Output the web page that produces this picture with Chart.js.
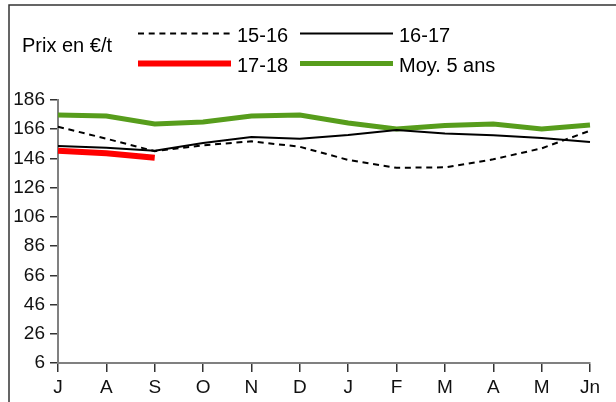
<!doctype html>
<html lang="fr">
<head>
<meta charset="UTF-8">
<title>Prix en €/t</title>
<script src="https://cdn.jsdelivr.net/npm/chart.js@4/dist/chart.umd.min.js"></script>
<style>
  html, body { margin:0; padding:0; background:#fff; }
  #wrap { width:616px; height:402px; }
</style>
</head>
<body>
<div id="wrap"><canvas id="prix-chart" width="616" height="402"></canvas></div>
<script>
// data (€/t)
const months = ['J','A','S','O','N','D','J','F','M','A','M','Jn'];
const s1516 = [167.7, 159.5, 151.0, 155.0, 157.7, 154.0, 145.0, 139.6, 139.9, 145.4, 152.9, 165.0];
const s1617 = [154.5, 153.4, 151.3, 156.6, 160.7, 159.5, 162.0, 165.5, 163.0, 161.8, 160.0, 157.3];
const s1718 = [151.3, 149.5, 146.5];
const moy5  = [175.7, 175.0, 169.6, 171.0, 175.0, 175.7, 170.3, 166.2, 168.6, 169.6, 166.2, 168.9];
const yMin = 6, yMax = 186, yStep = 20;
const unitLabel = 'Prix en €/t';

const FONT = 'Liberation Sans, Arial, sans-serif';

// legend in two rows, like the original sheet
const legendBox = {
  id: 'legendBox',
  afterDraw(chart) {
    const ctx = chart.ctx;
    const ds = chart.data.datasets;
    ctx.save();
    // outer frame
    ctx.strokeStyle = '#333';
    ctx.lineWidth = 1.5;
    ctx.beginPath();
    ctx.moveTo(9, 420); ctx.lineTo(9, 5); ctx.lineTo(640, 5);
    ctx.stroke();

    ctx.font = '20px ' + FONT;
    ctx.fillStyle = '#000';
    ctx.textBaseline = 'alphabetic';
    ctx.fillText(unitLabel, 22, 51.5);

    // [line start, line y, text baseline]
    const slots = [[138, 33.5, 41.5], [300, 33.5, 41.5], [138, 63.5, 71.5], [300, 63.5, 71.5]];
    ds.forEach((d, k) => {
      const [x, y, base] = slots[k];
      ctx.strokeStyle = d.borderColor;
      ctx.lineWidth = d.borderWidth;
      ctx.setLineDash(d.borderDash || []);
      ctx.beginPath();
      ctx.moveTo(x, y); ctx.lineTo(x + 93, y);
      ctx.stroke();
      ctx.setLineDash([]);
      ctx.fillStyle = '#000';
      ctx.fillText(d.label, x + 99, base);
    });
    ctx.restore();
  }
};

new Chart(document.getElementById('prix-chart'), {
  type: 'line',
  data: {
    labels: months,
    datasets: [
      { label: '15-16', data: s1516, borderColor: '#000', borderWidth: 2, borderDash: [6, 4.7] },
      { label: '16-17', data: s1617, borderColor: '#000', borderWidth: 2 },
      { label: '17-18', data: s1718, borderColor: '#ff0000', borderWidth: 6 },
      { label: 'Moy. 5 ans', data: moy5, borderColor: '#579d1c', borderWidth: 5 }
    ]
  },
  options: {
    responsive: false,
    animation: false,
    elements: {
      point: { radius: 0 },
      line: { tension: 0, borderCapStyle: 'butt', fill: false }
    },
    layout: { padding: { top: 100, right: 26, left: 0, bottom: 0 } },
    plugins: {
      legend: { display: false },
      tooltip: { enabled: false }
    },
    scales: {
      x: {
        offset: false,
        grid: { drawOnChartArea: false, color: '#333', tickLength: 9, lineWidth: 1.5 },
        border: { color: '#808080', width: 2 },
        ticks: { color: '#111', font: { family: FONT, size: 19 }, padding: 4, maxRotation: 0, autoSkip: false },
        afterFit(scale) { scale.height = 39; }
      },
      y: {
        min: yMin, max: yMax,
        grid: { drawOnChartArea: false, color: '#333', tickLength: 8, lineWidth: 1.5 },
        border: { color: '#808080', width: 2 },
        ticks: { stepSize: yStep, color: '#111', font: { family: FONT, size: 19 }, padding: 5 },
        afterFit(scale) { scale.width = 58; }
      }
    }
  },
  plugins: [legendBox]
});
</script>
</body>
</html>
